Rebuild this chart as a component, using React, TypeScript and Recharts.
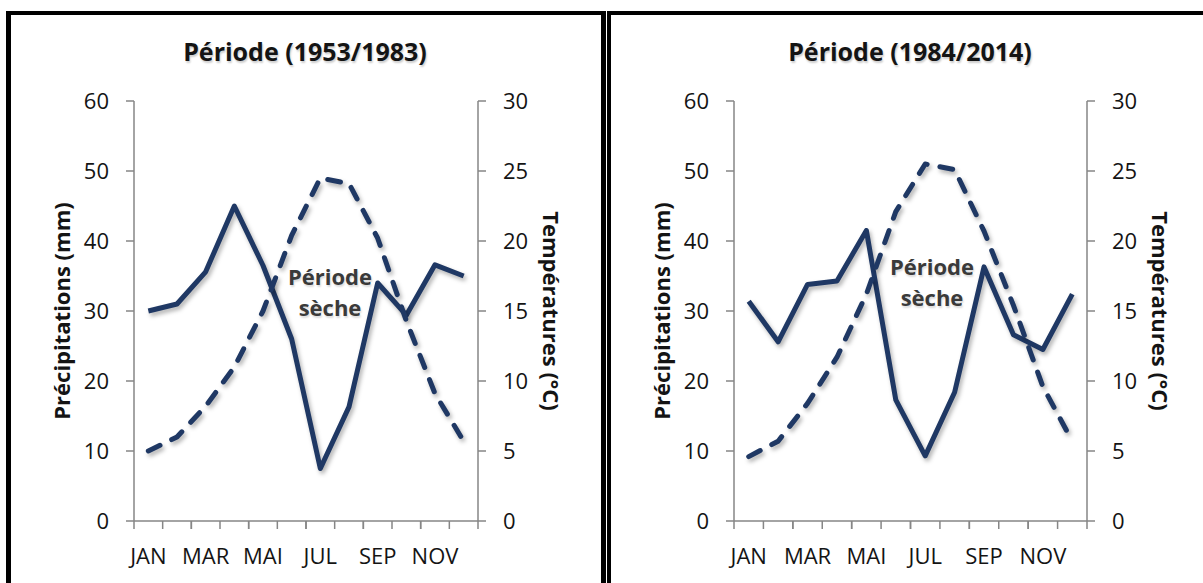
import { LineChart, Line, XAxis, YAxis } from 'recharts';

// mois (catégories) et étiquettes affichées
const MOIS = ['JAN', 'FEV', 'MAR', 'AVR', 'MAI', 'JUN', 'JUL', 'AOU', 'SEP', 'OCT', 'NOV', 'DEC'];
const MOIS_AFFICHES = ['JAN', 'MAR', 'MAI', 'JUL', 'SEP', 'NOV'];

// période 1953/1983
const PLUIE_1953 = [30, 31, 35.6, 45, 36.5, 26, 7.5, 16.3, 34, 29.4, 36.6, 35];
const TEMP_1953 = [5, 6, 8.2, 11, 15, 20.4, 24.5, 24.1, 20.2, 14.3, 9.1, 5.7];

// période 1984/2014
const PLUIE_1984 = [31.4, 25.6, 33.8, 34.3, 41.5, 17.3, 9.3, 18.4, 36.3, 26.6, 24.5, 32.4];
const TEMP_1984 = [4.6, 5.7, 8.4, 11.7, 16.2, 22.1, 25.5, 25.1, 20.7, 15.4, 9.6, 5.7];

const TICKS_PLUIE = [0, 10, 20, 30, 40, 50, 60];
const TICKS_TEMP = [0, 5, 10, 15, 20, 25, 30];

const BLEU = '#1f3864';
const GRIS = '#868686';
const TEXTE = '#141414';
const FONT = '"Open Sans", sans-serif';

const CHART_W = 600;
const AXIS_W = 100;
const MARGIN_L = 34;

function buildRows(pluie: number[], temp: number[]) {
  return MOIS.map((mois, i) => ({ mois, pos: i + 0.5, pluie: pluie[i], temp: temp[i] }));
}

const labelPositions = MOIS_AFFICHES.map((m) => MOIS.indexOf(m) + 0.5);

// étiquette de mois + graduations aux bornes des mois voisins (style Excel)
function makeMonthTick(band: number) {
  return function MonthTick(props: any) {
    const { x, y, payload } = props;
    const v = Number(payload.value);
    const offsets = v > 11 ? [-0.5, 0.5] : [-0.5, 0.5, 1.5];
    return (
      <g>
        {offsets.map((o) => (
          <line key={o} x1={x + o * band} x2={x + o * band} y1={y} y2={y + 8} stroke={GRIS} strokeWidth={1.5} />
        ))}
        <text x={x} y={y + 27} dy="0.71em" textAnchor="middle" fill={TEXTE} fontSize={22} fontFamily={FONT}>
          {MOIS[Math.floor(v)]}
        </text>
      </g>
    );
  };
}

interface PanelProps {
  title: string;
  pluie: number[];
  temp: number[];
  left: number;
  marginRight: number;
  titleX: number;
  noteX: number;
  noteY: number;
}

function Panel({ title, pluie, temp, left, marginRight, titleX, noteX, noteY }: PanelProps) {
  const data = buildRows(pluie, temp);
  const plotW = CHART_W - MARGIN_L - 2 * AXIS_W - marginRight;
  const MonthTick = makeMonthTick(plotW / MOIS.length);
  const tickStyle = { fill: TEXTE, fontSize: 22, fontFamily: FONT };
  const axisTitle = { textAnchor: 'middle' as const, fontWeight: 700, fontSize: 22, fill: TEXTE, fontFamily: FONT };

  return (
    <>
      <div style={{ position: 'absolute', left, top: 0 }}>
        <LineChart
          width={CHART_W}
          height={583}
          data={data}
          margin={{ top: 101, right: marginRight, left: MARGIN_L, bottom: 14 }}
          style={{ fontFamily: FONT }}
        >
          <XAxis
            type="number"
            dataKey="pos"
            domain={[0, 12]}
            ticks={labelPositions}
            interval={0}
            tick={MonthTick}
            tickLine={false}
            tickSize={0}
            tickMargin={0}
            height={48}
            stroke={GRIS}
            strokeWidth={1.5}
          />
          <YAxis
            yAxisId="pluie"
            domain={[0, 60]}
            ticks={TICKS_PLUIE}
            interval={0}
            width={AXIS_W}
            tickSize={8}
            tickMargin={17}
            stroke={GRIS}
            strokeWidth={1.5}
            tick={tickStyle}
            label={{ value: 'Précipitations (mm)', angle: -90, position: 'insideLeft', offset: 28, style: axisTitle }}
          />
          <YAxis
            yAxisId="temp"
            orientation="right"
            domain={[0, 30]}
            ticks={TICKS_TEMP}
            interval={0}
            width={AXIS_W}
            tickSize={8}
            tickMargin={17}
            stroke={GRIS}
            strokeWidth={1.5}
            tick={tickStyle}
            label={{ value: 'Températures (°C)', angle: 90, position: 'insideRight', offset: 27, style: axisTitle }}
          />
          <Line
            yAxisId="pluie"
            type="linear"
            dataKey="pluie"
            stroke={BLEU}
            strokeWidth={5}
            strokeLinejoin="round"
            dot={false}
            activeDot={false}
            isAnimationActive={false}
          />
          <Line
            yAxisId="temp"
            type="linear"
            dataKey="temp"
            stroke={BLEU}
            strokeWidth={5}
            strokeDasharray="13 13"
            strokeLinecap="round"
            strokeLinejoin="round"
            dot={false}
            activeDot={false}
            isAnimationActive={false}
          />
        </LineChart>
      </div>
      <div
        style={{
          position: 'absolute',
          left: titleX - 200,
          top: 39,
          width: 400,
          textAlign: 'center',
          fontFamily: FONT,
          fontWeight: 700,
          fontSize: 25,
          lineHeight: '25px',
          color: TEXTE,
          textShadow: '1px 2px 2px rgba(0,0,0,0.2)',
        }}
      >
        {title}
      </div>
      <div
        style={{
          position: 'absolute',
          left: noteX - 80,
          top: noteY,
          width: 160,
          textAlign: 'center',
          fontFamily: FONT,
          fontWeight: 700,
          fontSize: 22,
          lineHeight: '31px',
          color: '#3a3a3a',
          textShadow: '1px 2px 2px rgba(0,0,0,0.15)',
        }}
      >
        Période
        <br />
        sèche
      </div>
    </>
  );
}

export default function App() {
  return (
    <div
      style={{
        position: 'absolute',
        left: 0,
        top: 0,
        width: 1203,
        height: 583,
        overflow: 'hidden',
        background: '#fff',
      }}
    >
      <style>{'.recharts-line-curve { filter: drop-shadow(2px 3px 2px rgba(0,0,0,0.3)); }'}</style>
      <div
        style={{
          position: 'absolute',
          left: 6,
          top: 11,
          width: 600,
          height: 700,
          boxSizing: 'border-box',
          borderLeft: '5px solid #000',
          borderTop: '4px solid #000',
          borderRight: '5px solid #000',
        }}
      />
      <div
        style={{
          position: 'absolute',
          left: 607,
          top: 11,
          width: 700,
          height: 700,
          boxSizing: 'border-box',
          borderLeft: '4px solid #000',
          borderTop: '4px solid #000',
        }}
      />
      <Panel
        title="Période (1953/1983)"
        pluie={PLUIE_1953}
        temp={TEMP_1953}
        left={0}
        marginRight={22}
        titleX={305}
        noteX={330}
        noteY={261}
      />
      <Panel
        title="Période (1984/2014)"
        pluie={PLUIE_1984}
        temp={TEMP_1984}
        left={600}
        marginRight={13}
        titleX={910}
        noteX={932}
        noteY={251}
      />
    </div>
  );
}
